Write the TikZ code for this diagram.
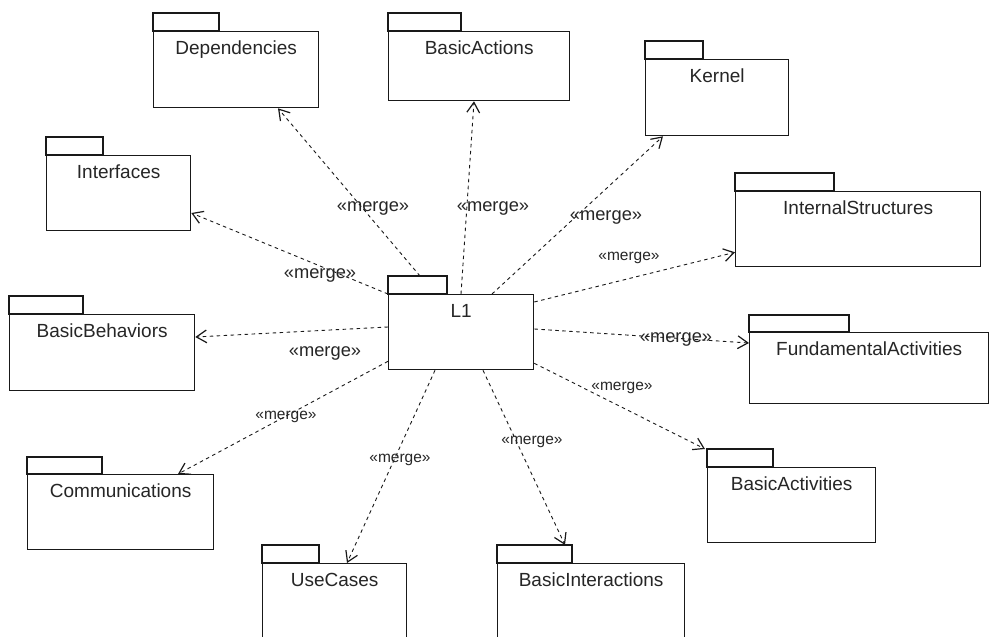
\documentclass[tikz,border=0pt]{standalone}
\usepackage{fontspec}
\setmainfont{Liberation Sans}
\usetikzlibrary{arrows.meta,calc}
\newcommand\umlpkg[8]{%
  \node[pkgbody, minimum width=#4pt, minimum height=#5pt] (#1) at (#2,#3) {};
  \draw[pkgtab] (#1.north west) rectangle ++(#6,-#7);
  \node[pkgname] (#1-name) at ($(#1.north)+(0,23)$) {#8};
}
\begin{document}
\begin{tikzpicture}[x=1pt,y=-1pt,
  pkgbody/.style={draw=black!90, line width=1.3pt, rectangle, inner sep=0pt, anchor=north west},
  pkgtab/.style={draw=black!90, line width=1.3pt},
  pkgname/.style={font=\fontsize{19}{22}\selectfont, anchor=base, inner sep=0pt, text=black!85},
  merge/.style={dash pattern=on 3.5pt off 3.5pt, line width=0.9pt, draw=black!90,
    -{Straight Barb[angle=64:12pt, line width=1.2pt]}},
  mlab/.style={font=\fontsize{18.3}{20}\selectfont, inner sep=0pt, text=black!85},
  slab/.style={font=\fontsize{15.5}{18}\selectfont, inner sep=0pt, text=black!85}]
\fill[white] (0,0) rectangle (991,637);
\useasboundingbox (0,0) rectangle (991,637);

\umlpkg{dep}{153}{31}{165}{76}{66}{18}{Dependencies}
\umlpkg{bact}{388}{31}{181}{69}{73}{18}{BasicActions}
\umlpkg{ker}{645}{59}{143}{76}{58}{18}{Kernel}
\umlpkg{intf}{46}{155}{144}{75}{57}{18}{Interfaces}
\umlpkg{ist}{735}{191}{245}{75}{99}{18}{InternalStructures}
\umlpkg{l1}{388}{294}{145}{75}{59}{18}{L1}
\umlpkg{bbeh}{9}{314}{185}{76}{74}{18}{BasicBehaviors}
\umlpkg{fact}{749}{332}{239}{71}{100}{17}{FundamentalActivities}
\umlpkg{comm}{27}{474}{186}{75}{75}{17}{Communications}
\umlpkg{bacts}{707}{467}{168}{75}{66}{18}{BasicActivities}
\umlpkg{uc}{262}{563}{144}{82}{57}{18}{UseCases}
\umlpkg{bint}{497}{563}{187}{82}{75}{18}{BasicInteractions}

\draw[merge] ($(l1.north west)+(32,-18)$) -- ($(dep.south west)+(125,0)$);
\draw[merge] ($(l1.north west)+(73,0)$) -- ($(bact.south west)+(86,0)$);
\draw[merge] ($(l1.north west)+(104,0)$) -- ($(ker.south west)+(18,0)$);
\draw[merge] (l1.north west) -- ($(intf.north east)+(0,58)$);
\draw[merge] ($(l1.north west)+(0,33)$) -- ($(bbeh.north east)+(0,23)$);
\draw[merge] ($(l1.south west)+(0,-9)$) -- ($(comm.north west)+(151,0)$);
\draw[merge] ($(l1.south west)+(47,0)$) -- ($(uc.north west)+(85,0)$);
\draw[merge] ($(l1.south west)+(95,0)$) -- ($(bint.north west)+(68,-18)$);
\draw[merge] ($(l1.north east)+(0,8)$) -- ($(ist.south west)+(0,-15)$);
\draw[merge] ($(l1.north east)+(0,35)$) -- ($(fact.north west)+(0,11)$);
\draw[merge] ($(l1.south east)+(0,-7)$) -- ($(bacts.north west)+(-2,-18)$);

\node[mlab] (m-dep) at (373,208) {«merge»};
\node[mlab] (m-bact) at (493,208) {«merge»};
\node[mlab] (m-ker) at (606,217) {«merge»};
\node[mlab] (m-intf) at (320,275) {«merge»};
\node[mlab] (m-bbeh) at (325,353) {«merge»};
\node[slab] (m-comm) at (286,417) {«merge»};
\node[slab] (m-uc) at (400,460) {«merge»};
\node[slab] (m-bint) at (532,442) {«merge»};
\node[slab] (m-ist) at (629,258) {«merge»};
\node[mlab] (m-fact) at (676,339) {«merge»};
\node[slab] (m-bacts) at (622,388) {«merge»};
\end{tikzpicture}
\end{document}
